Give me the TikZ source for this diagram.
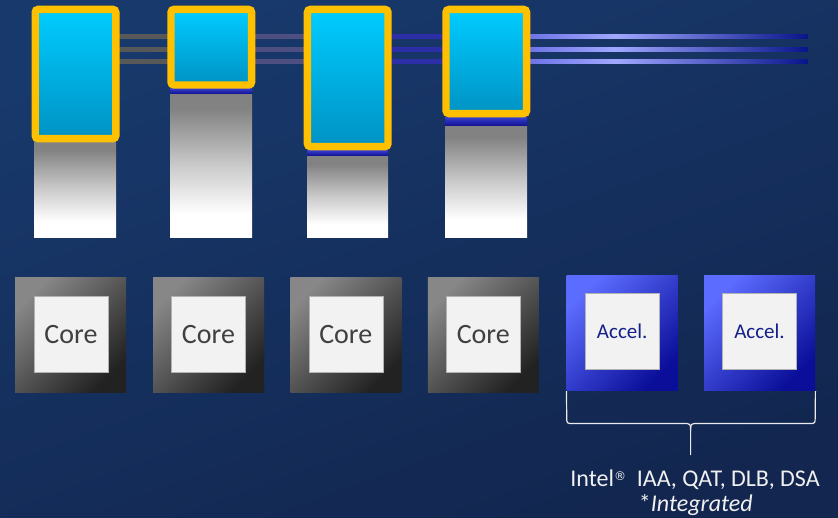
\documentclass[tikz,border=0pt]{standalone}
\usepackage{fontspec}
\setmainfont{Carlito}
\newfontfamily\dvfont{DejaVu Sans}
\definecolor{bgA}{HTML}{18396C}
\definecolor{bgB}{HTML}{12264F}
\definecolor{ybox}{HTML}{FFC000}
\definecolor{cyanT}{HTML}{00CCFF}
\definecolor{cyanB}{HTML}{0092C4}
\definecolor{grayT}{HTML}{828282}
\definecolor{gmid}{HTML}{CACACA}
\definecolor{gwhite}{HTML}{FFFFFF}
\definecolor{bandT}{HTML}{3A40D0}
\definecolor{bandB}{HTML}{0E108E}
\definecolor{lgray}{HTML}{585858}
\definecolor{lpurp}{HTML}{4E4E80}
\definecolor{lblue}{HTML}{2C2EA8}
\definecolor{lA}{HTML}{6E74E6}
\definecolor{lB}{HTML}{A0A8FF}
\definecolor{lC}{HTML}{08148A}
\definecolor{coreL}{HTML}{878787}
\definecolor{coreD}{HTML}{222222}
\definecolor{accL}{HTML}{5C6CFF}
\definecolor{accD}{HTML}{0A0E98}
\definecolor{innerF}{HTML}{F2F2F2}
\definecolor{coreTxt}{HTML}{404040}
\definecolor{accTxt}{HTML}{13208A}
\pgfdeclarehorizontalshading{busline}{100bp}{color(0bp)=(lgray); color(28.6bp)=(lgray); color(34.8bp)=(lpurp); color(38.4bp)=(lpurp); color(44.8bp)=(lblue); color(48.4bp)=(lblue); color(54.8bp)=(lA); color(61bp)=(lB); color(75bp)=(lC); color(100bp)=(lC)}
\pgfdeclareverticalshading{graybar}{100bp}{color(0bp)=(gwhite); color(25bp)=(gwhite); color(33bp)=(gwhite); color(50bp)=(gmid); color(70bp)=(grayT); color(100bp)=(grayT)}
\tikzset{
  ybx/.style={draw=ybox, line width=7.4pt, rounded corners=3pt, top color=cyanT, bottom color=cyanB, minimum width=80.6pt, inner sep=0pt, outer sep=0pt},
  gbar/.style={shading=graybar},
  band/.style={top color=bandT, bottom color=bandB},
  corebox/.style={minimum width=111pt, minimum height=115pt, inner sep=0pt, top color=coreL, bottom color=coreD, shading angle=45},
  accbox/.style={minimum width=111pt, minimum height=115.5pt, inner sep=0pt, top color=accL, bottom color=accD, shading angle=45},
  innerbox/.style={minimum width=74pt, minimum height=76pt, inner sep=0pt, fill=innerF, draw=gray!60, line width=0.5pt},
  coretext/.style={font=\fontsize{28}{32}\selectfont, text=coreTxt},
  acctext/.style={font=\fontsize{21}{25}\selectfont, text=accTxt},
  lbl/.style={text=white!94!black, font=\fontsize{24}{28}\selectfont, anchor=base, inner sep=0pt},
  brace/.style={draw=white!92!black, line width=1.2pt}
}
\begin{document}
\begin{tikzpicture}[x=1pt,y=-1pt]
\useasboundingbox (0,0) rectangle (838,517);
\shade[top color=bgA, bottom color=bgB, shading angle=20] (0,0) rectangle (838,517);
% bus lines
\shade[shading=busline] (119,34.3) rectangle (808,38.3);
\shade[shading=busline] (119,47) rectangle (808,51);
\shade[shading=busline] (119,59.3) rectangle (808,63.3);
% gray bars and bands
\shade[gbar] (34,140) rectangle (116,237);
\shade[band] (170,88) rectangle (252,94);
\shade[gbar] (170,94) rectangle (252,237);
\shade[band] (307,150) rectangle (388,156);
\shade[gbar] (307,156) rectangle (388,237);
\shade[band] (445,117) rectangle (527,126);
\shade[gbar] (445,126) rectangle (527,237);
% yellow boxes
\node[ybx, minimum height=129.3pt] (m1) at (75.5,74) {};
\node[ybx, minimum height=75.6pt] (m2) at (211.3,47.2) {};
\node[ybx, minimum height=137.2pt] (m3) at (347.7,78) {};
\node[ybx, minimum height=104.2pt] (m4) at (486.3,61.5) {};
% cores
\node[corebox] (c1) at (70.5,334.7) {};
\node[innerbox, coretext] (c1i) at (71,334.2) {Core};
\node[corebox] (c2) at (208.5,334.7) {};
\node[innerbox, coretext] (c2i) at (208.5,334.2) {Core};
\node[corebox] (c3) at (345.8,334.7) {};
\node[innerbox, coretext] (c3i) at (345.8,334.2) {Core};
\node[corebox] (c4) at (483.4,334.7) {};
\node[innerbox, coretext] (c4i) at (483.3,334.2) {Core};
% accelerators
\node[accbox] (a1) at (622.2,333.2) {};
\node[innerbox, acctext] (a1i) at (622.2,331.5) {Accel.};
\node[accbox] (a2) at (759.7,333.2) {};
\node[innerbox, acctext] (a2i) at (759.5,331.5) {Accel.};
% brace
\coordinate (tip) at (690.6,455);
\draw[brace] (a1.south west) -- (566.7,417) .. controls (566.7,423.5) .. (573.2,423.5) -- (683,423.5) .. controls (690.6,423.5) .. (690.6,431) -- (tip);
\draw[brace] (a2.south east) -- (815.2,417) .. controls (815.2,423.5) .. (808.7,423.5) -- (698.2,423.5) .. controls (690.6,423.5) .. (690.6,431);
% labels
\node[lbl] (l1) at (695,486) {Intel\raisebox{5.5pt}{\dvfont\fontsize{12}{12}\selectfont ®}\ \ IAA, QAT, DLB, DSA};
\node[lbl] (l2) at (695.8,511.5) {*\textit{Integrated}};
\end{tikzpicture}
\end{document}
